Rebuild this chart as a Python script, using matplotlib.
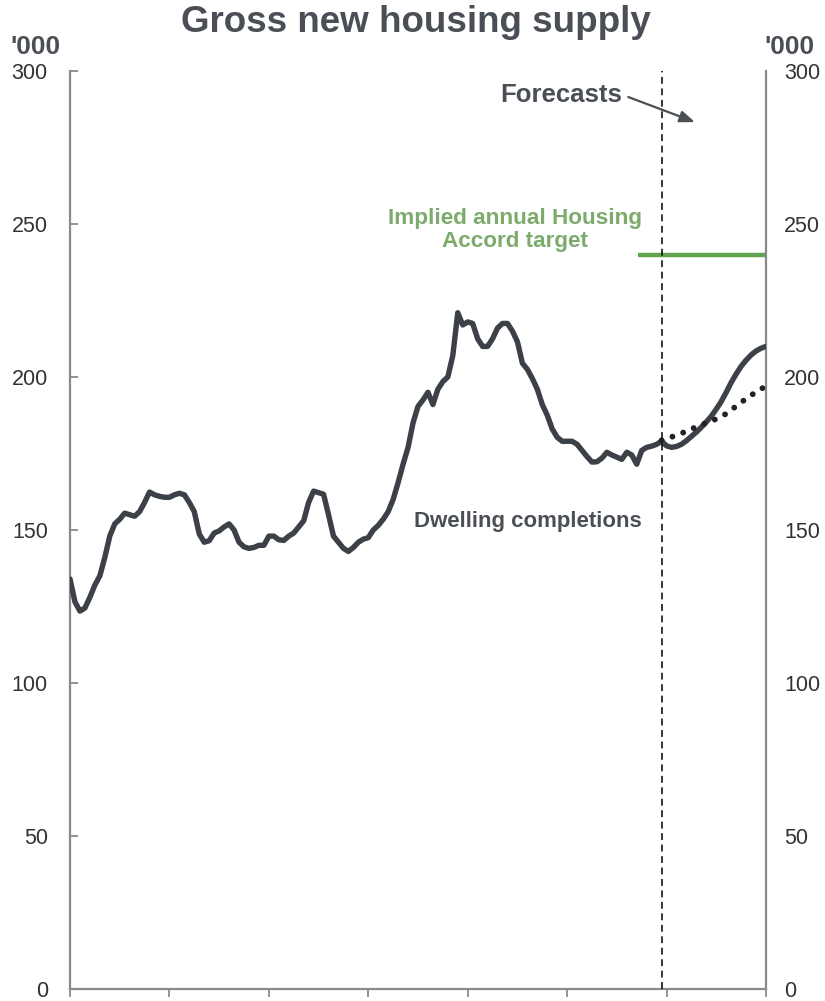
import matplotlib
matplotlib.use("Agg")
import matplotlib.pyplot as plt
import numpy as np

plt.rcParams['font.family'] = ['Liberation Sans', 'DejaVu Sans']

# Quarterly dwelling completions ('000, annualised), first quarter = index 0
completions = [
    134, 126.5, 123.5, 124.5, 128, 132, 135, 141, 148, 152,
    153.5, 155.5, 155, 154.5, 156, 159, 162.4, 161.5, 161, 160.7,
    160.7, 161.5, 162, 161.5, 159, 156, 148.7, 146, 146.5, 149,
    149.7, 151, 152, 150, 146, 144.5, 144, 144.3, 145, 145,
    148, 148, 146.8, 146.6, 148, 149, 151, 153, 159, 162.7,
    162.2, 161.7, 155, 148, 146, 144, 143, 144.3, 146, 147,
    147.5, 150, 151.5, 153.5, 156, 160, 165.5, 171.5, 177, 185,
    190.4, 192.5, 195, 191, 196, 198.5, 200, 207, 221, 217,
    218, 217.5, 212.5, 210, 210, 212.5, 216, 217.5, 217.5, 215,
    211.5, 204.5, 202.5, 199.5, 196, 191, 187.5, 183, 180.3, 179,
    179, 179, 178, 176, 174, 172.2, 172.3, 173.5, 175.4, 174.5,
    173.8, 173.1, 175.4, 174.5, 171.5, 176, 177, 177.4, 178, 179,
    # forecast
    177.5, 177, 177.3, 178, 179.2, 180.6, 182, 183.6, 185.3, 187.2,
    189.5, 192, 195, 198.2, 201, 203.5, 205.5, 207.2, 208.5, 209.4,
    210,
]

# Alternative forecast path, starting at the forecast boundary
alt_start = 119
alt_forecast = [
    179.3, 179.9, 180.4, 181, 181.6, 182.3, 183, 183.7, 184.4, 185,
    185.6, 186.3, 187.1, 188, 189.2, 190.5, 191.7, 192.9, 194, 195.1,
    196.1, 197,
]

forecast_start = 119          # quarter index where forecasts begin
accord_target = 240           # implied annual Housing Accord target ('000)
accord_start = 114.3
n_quarters = 140

y_ticks = [0, 50, 100, 150, 200, 250, 300]
x_ticks = list(range(0, 141, 20))

line_col = '#3c4148'
text_col = '#4a4f56'
green_line = '#62a34f'
green_text = '#7cab6c'
axis_col = '#8a8a8a'

fig = plt.figure(figsize=(8.25, 10.01), dpi=100)
ax = fig.add_axes([70 / 825, 12 / 1001, 696 / 825, 918 / 1001])

q = np.arange(len(completions))
ax.plot(q, completions, color=line_col, lw=3.9, solid_joinstyle='round',
        solid_capstyle='round', zorder=3)

qa = np.arange(alt_start, alt_start + len(alt_forecast))
ax.plot(qa, alt_forecast, color='#222222', lw=4.2,
        linestyle=(0, (0.01, 1.95)), dash_capstyle='round', zorder=4)

ax.plot([accord_start, n_quarters], [accord_target, accord_target],
        color=green_line, lw=3.2, solid_capstyle='butt', zorder=2)

ax.axvline(forecast_start, color='black', lw=1.1, linestyle=(0, (4.5, 3)),
           zorder=5)

ax.set_xlim(0, n_quarters)
ax.set_ylim(0, 300)

ax.spines['top'].set_visible(False)
for s in ['left', 'right', 'bottom']:
    ax.spines[s].set_color(axis_col)
    ax.spines[s].set_linewidth(1.6)

ax.set_yticks(y_ticks)
ax.tick_params(axis='y', direction='in', length=6, width=1.3,
               color=axis_col, labelsize=15.5, labelcolor='#333333',
               left=True, right=True, labelleft=True, labelright=False,
               pad=16)
ax.set_xticks(x_ticks)
ax.set_xticklabels([])
ax.tick_params(axis='x', direction='out', length=6, width=1.3, color=axis_col)

# right-hand scale labels
axr = ax.twinx()
axr.set_ylim(ax.get_ylim())
axr.set_yticks(y_ticks)
axr.tick_params(axis='y', direction='in', length=0, labelsize=15.5,
                labelcolor='#333333', pad=13)
for s in axr.spines.values():
    s.set_visible(False)

fig.text(416 / 825, 1 - 23 / 1001, 'Gross new housing supply', ha='center',
         va='center', fontsize=26.5, fontweight='bold', color=text_col)
fig.text(35 / 825, 1 - 47 / 1001, "'000", ha='center', va='center',
         fontsize=19, fontweight='bold', color=text_col)
fig.text(789 / 825, 1 - 47 / 1001, "'000", ha='center', va='center',
         fontsize=19, fontweight='bold', color=text_col)

ax.text(98.8, 292, 'Forecasts', ha='center', va='center', fontsize=18.5,
        fontweight='bold', color=text_col)
ax.annotate('', xy=(125.7, 283.3), xytext=(112.3, 291.5),
            arrowprops=dict(arrowstyle='-|>,head_length=0.9,head_width=0.35',
                            color=text_col, lw=1.6, shrinkA=0, shrinkB=0))

ax.text(89.5, 248, 'Implied annual Housing\nAccord target', ha='center',
        va='center', fontsize=16.2, fontweight='bold', color=green_text,
        linespacing=1.15)

ax.text(92.1, 152.9, 'Dwelling completions', ha='center', va='center',
        fontsize=16, fontweight='bold', color=text_col)

fig.savefig('out.png', dpi=100)
